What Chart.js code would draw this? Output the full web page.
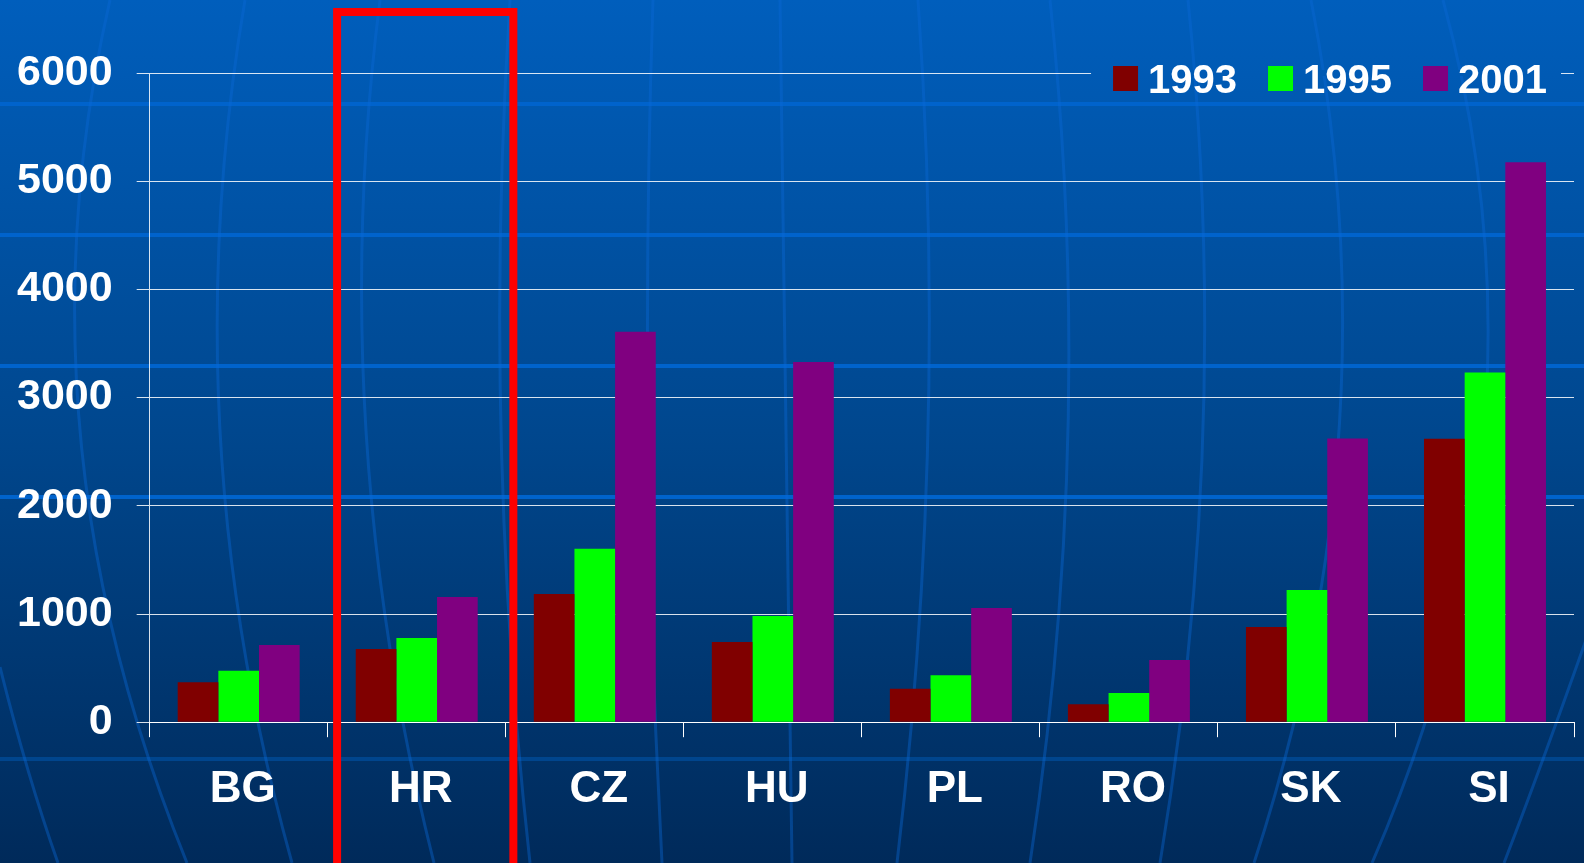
<!DOCTYPE html>
<html>
<head>
<meta charset="utf-8">
<script src="https://cdn.jsdelivr.net/npm/chart.js@4.4.0/dist/chart.umd.min.js"></script>
<style>
html, body { margin: 0; padding: 0; background: #003f80; overflow: hidden; }
#wrap { position: relative; width: 1584px; height: 863px; }
</style>
</head>
<body>
<div id="wrap"><canvas id="chart" width="1584" height="863"></canvas></div>
<script>
const countries = ['BG', 'HR', 'CZ', 'HU', 'PL', 'RO', 'SK', 'SI'];
const years = ['1993', '1995', '2001'];
const values1993 = [370, 676, 1185, 741, 309, 167, 880, 2620];
const values1995 = [475, 778, 1602, 981, 435, 269, 1222, 3231];
const values2001 = [713, 1157, 3608, 3330, 1055, 574, 2623, 5176];
const yTicks = [0, 1000, 2000, 3000, 4000, 5000, 6000];
const highlighted = 'HR';

const colors = ['#800000', '#00ff00', '#800080'];
const font = 'Liberation Sans';

// globe-like background: gradient, latitude and meridian lines
const backdrop = {
    id: 'backdrop',
    beforeDraw(chart) {
        const { ctx, width, height } = chart;
        const g = ctx.createLinearGradient(0, 0, 0, height);
        g.addColorStop(0, '#005ebc');
        g.addColorStop(0.5, '#00478e');
        g.addColorStop(1, '#002a5a');
        chart.$bg = g;
        ctx.save();
        ctx.fillStyle = g;
        ctx.fillRect(0, 0, width, height);

        ctx.lineWidth = 4;
        ctx.strokeStyle = '#0063cc';
        [104, 235, 366, 497].forEach(y => {
            ctx.beginPath(); ctx.moveTo(0, y); ctx.lineTo(width, y); ctx.stroke();
        });
        ctx.strokeStyle = 'rgba(0,90,180,0.5)';
        ctx.beginPath(); ctx.moveTo(0, 759); ctx.lineTo(width, 759); ctx.stroke();

        const meridians = [
            [110, 0, 80, 431, 187, 863], [245, 0, 220, 431, 292, 863],
            [380, 0, 366, 431, 434, 863], [510, 0, 501, 431, 530, 863],
            [653, 0, 648, 431, 662, 863], [780, 0, 786, 431, 792, 863],
            [918, 0, 928, 431, 897, 863], [1050, 0, 1068, 431, 1030, 863],
            [1188, 0, 1203, 431, 1160, 863], [1311, 0, 1339, 431, 1254, 863],
            [1443, 0, 1484, 431, 1372, 863], [1600, 600, 1550, 740, 1504, 863],
            [0, 667, 28, 770, 58, 863]
        ];
        ctx.lineWidth = 3;
        ctx.strokeStyle = 'rgba(10,105,215,0.4)';
        meridians.forEach(([x0, y0, xm, ym, x1, y1]) => {
            const cx = 2 * xm - (x0 + x1) / 2, cy = 2 * ym - (y0 + y1) / 2;
            ctx.beginPath(); ctx.moveTo(x0, y0); ctx.quadraticCurveTo(cx, cy, x1, y1); ctx.stroke();
        });
        ctx.restore();
    }
};

// red frame around the highlighted country
const frame = {
    id: 'frame',
    afterDatasetsDraw(chart) {
        const { ctx } = chart;
        const x = chart.scales.x;
        const step = x.width / countries.length;
        const cx = x.getPixelForValue(countries.indexOf(highlighted)) + 8.5;
        const w = step * 0.99;
        ctx.save();
        ctx.strokeStyle = '#ff0000';
        ctx.lineWidth = 8;
        ctx.strokeRect(cx - w / 2, 12, w, 860);
        ctx.restore();
    }
};

// legend sitting on the top gridline, right side
const cornerLegend = {
    id: 'cornerLegend',
    afterDraw(chart) {
        const { ctx, chartArea } = chart;
        ctx.save();
        ctx.font = 'bold 40px "' + font + '"';
        const box = 25, gap = 10, spacing = 31;
        const items = chart.data.datasets.map(ds => ({
            label: ds.label, color: ds.backgroundColor, w: ctx.measureText(ds.label).width
        }));
        const total = items.reduce((s, it) => s + box + gap + it.w, 0) + spacing * (items.length - 1);
        let x = chartArea.right - 27 - total;
        ctx.fillStyle = chart.$bg;
        ctx.fillRect(x - 22, chartArea.top - 3, total + 36, 6);
        items.forEach(it => {
            ctx.fillStyle = it.color;
            ctx.fillRect(x, chartArea.top - 7, box, box);
            x += box + gap;
            ctx.fillStyle = '#ffffff';
            ctx.textBaseline = 'alphabetic';
            ctx.fillText(it.label, x, chartArea.top + 20);
            x += it.w + spacing;
        });
        ctx.restore();
    }
};

new Chart(document.getElementById('chart'), {
    type: 'bar',
    data: {
        labels: countries,
        datasets: [
            { label: years[0], data: values1993, backgroundColor: colors[0] },
            { label: years[1], data: values1995, backgroundColor: colors[1] },
            { label: years[2], data: values2001, backgroundColor: colors[2] }
        ]
    },
    options: {
        responsive: false,
        animation: false,
        datasets: { bar: { categoryPercentage: 0.685, barPercentage: 1 } },
        layout: { padding: { left: -7, right: 10, top: 73, bottom: 21 } },
        plugins: { legend: { display: false }, tooltip: { enabled: false } },
        scales: {
            x: {
                grid: { drawOnChartArea: false, drawTicks: true, tickLength: 15, color: '#ffffff', offset: true },
                border: { color: '#ffffff', width: 1 },
                ticks: { color: '#ffffff', padding: 26, labelOffset: 4, font: { family: font, size: 44, weight: 'bold' } }
            },
            y: {
                min: 0, max: 6000,
                afterBuildTicks: axis => { axis.ticks = yTicks.map(v => ({ value: v })); },
                grid: { color: 'rgba(255,255,255,0.85)', tickLength: 13 },
                border: { color: 'rgba(255,255,255,0.85)', width: 1 },
                ticks: {
                    color: '#ffffff', padding: 24,
                    font: { family: font, size: 43, weight: 'bold' },
                    callback: v => String(v)
                }
            }
        }
    },
    plugins: [backdrop, frame, cornerLegend]
});
</script>
</body>
</html>
